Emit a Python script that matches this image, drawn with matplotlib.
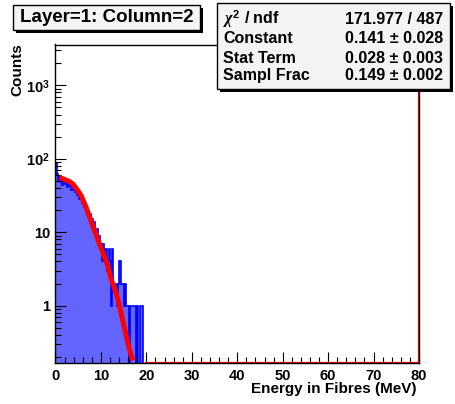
import numpy as np
import matplotlib
matplotlib.use("Agg")
import matplotlib.pyplot as plt
from matplotlib.patches import Rectangle
from matplotlib.ticker import LogLocator, MultipleLocator, FixedLocator, FixedFormatter, NullFormatter

plt.rcParams['font.family'] = ['Liberation Sans', 'DejaVu Sans']
plt.rcParams['font.weight'] = 'bold'
plt.rcParams['mathtext.fontset'] = 'custom'
plt.rcParams['mathtext.rm'] = 'Liberation Sans:bold'
plt.rcParams['mathtext.bf'] = 'Liberation Sans:bold'
plt.rcParams['mathtext.it'] = 'Liberation Serif:italic'

# ---------------- data ----------------
bin_width = 0.25
bin_start = 0.0
counts = [88, 62, 52, 58, 48, 55, 44, 52, 46, 50,
          41, 47, 43, 48, 38, 44, 40, 35, 38, 32,
          34, 28, 31, 25, 27, 22, 24, 19, 20, 16,
          18, 13, 15, 12, 14, 10, 11, 8, 9, 6,
          7, 4, 7, 5, 6, 3, 4, 6, 4, 1,
          6, 2, 2, 2, 1, 2, 4, 4, 2, 2,
          1, 2, 1, 1, 1, 0, 1, 1, 1, 1,
          1, 0, 1, 0, 1, 1, 1, 0, 0, 0]

fit_x = [0.88, 3.08, 3.82, 4.92, 5.65, 6.75, 8.22, 9.32, 10.42, 11.53,
         12.26, 13.36, 14.1, 15.2, 16.3, 17.0]
fit_y = [56.1, 48.9, 45.5, 36.8, 31.5, 21.8, 12.2, 8.0, 5.26, 3.46,
         2.27, 1.49, 0.98, 0.49, 0.25, 0.18]

empty_x = [20, 80]          # red outline of the empty part of the histogram

title_text = "Layer=1: Column=2"
stat_names = [r"$\chi^{2}$ / ndf", "Constant", "Stat Term", "Sampl Frac"]
stat_values = ["171.977 / 487", "0.141 \u00b1 0.028", "0.028 \u00b1 0.003", "0.149 \u00b1 0.002"]

x_range = (0, 80)
y_range = (0.166, 3600)
xlabel = "Energy in Fibres (MeV)"
ylabel = "Counts"
ytick_vals = [1, 10, 100, 1000]
ytick_labels = ["1", "10", r"$10^{2}$", r"$10^{3}$"]

# ---------------- figure ----------------
W, H = 456, 404
fig = plt.figure(figsize=(W / 100, H / 100), dpi=100)

def fx(px):
    return px / W

def fy(py):
    return 1 - py / H

ax_l, ax_r, ax_t, ax_b = 55.5, 419, 44.5, 363
ax = fig.add_axes([fx(ax_l), fy(ax_b), fx(ax_r) - fx(ax_l), fy(ax_t) - fy(ax_b)])
ax.set_yscale('log')
ax.set_xlim(*x_range)
ax.set_ylim(*y_range)

edges = bin_start + bin_width * np.arange(len(counts) + 1)
cnt = np.array(counts, dtype=float)
ax.stairs(cnt, edges, fill=True, color='#6464ff', baseline=0, zorder=1)
ax.stairs(cnt, edges, color='#0000ff', linewidth=1.2, baseline=0, zorder=1.5)

# red outline of empty region
ax.plot([empty_x[0], empty_x[1], empty_x[1]], [y_range[0], y_range[0], y_range[1]],
        color='#ff0000', linewidth=1.6, zorder=2)

# fit curve
ax.plot(fit_x, fit_y, color='#ff0000', linewidth=3.6, solid_capstyle='butt', zorder=3)

# ticks
ax.xaxis.set_major_locator(MultipleLocator(10))
ax.xaxis.set_minor_locator(MultipleLocator(2))
ax.yaxis.set_major_locator(FixedLocator(ytick_vals))
ax.yaxis.set_major_formatter(FixedFormatter(ytick_labels))
ax.yaxis.set_minor_locator(LogLocator(base=10, subs=np.arange(2, 10), numticks=20))
ax.yaxis.set_minor_formatter(NullFormatter())
ax.tick_params(axis='both', which='both', direction='in', top=False, right=False,
               labelsize=10.5, width=0.8, color='black')
ax.tick_params(axis='both', which='major', length=8, pad=4)
ax.tick_params(axis='both', which='minor', length=4)
for lab in ax.get_xticklabels() + ax.get_yticklabels():
    lab.set_fontweight('bold')
for sp in ax.spines.values():
    sp.set_linewidth(1.0)
    sp.set_zorder(4)

# axis titles
fig.text(fx(417), fy(389), xlabel, ha='right', va='center', fontsize=11, fontweight='bold')
fig.text(fx(17.5), fy(43), ylabel, ha='center', va='top', rotation=90, fontsize=11, fontweight='bold')

# ---------------- boxes ----------------
def shadow_box(x0, y0, x1, y1, face, sh=3):
    fig.patches.append(Rectangle((fx(x0 + sh), fy(y1 + sh)), fx(x1 - x0), fy(y0) - fy(y1),
                                 transform=fig.transFigure, facecolor='black', edgecolor='black',
                                 linewidth=0, zorder=10))
    fig.patches.append(Rectangle((fx(x0), fy(y1)), fx(x1 - x0), fy(y0) - fy(y1),
                                 transform=fig.transFigure, facecolor=face, edgecolor='black',
                                 linewidth=1.0, zorder=11))

shadow_box(13, 5, 200, 30, '#f4f4f4')
fig.text(fx(106.5), fy(18), title_text, ha='center', va='center', fontsize=13.5,
         fontweight='bold', zorder=12)

shadow_box(217, 3, 450, 89, '#f4f4f4')
baselines = [24.5, 43, 63, 80]
for name, val, b in zip(stat_names, stat_values, baselines):
    fig.text(fx(223), fy(b), name, ha='left', va='baseline', fontsize=11.5,
             fontweight='bold', zorder=12)
    fig.text(fx(443), fy(b), val, ha='right', va='baseline', fontsize=11.5,
             fontweight='bold', zorder=12)

fig.savefig('out.png', dpi=100)
